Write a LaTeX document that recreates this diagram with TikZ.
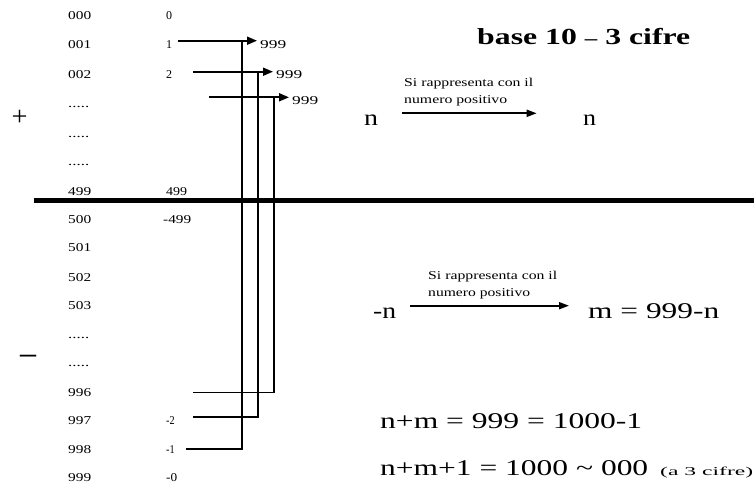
\documentclass[tikz,border=0pt]{standalone}
\usepackage{fontspec}
\usepackage{graphicx}
\setmainfont{Liberation Serif}
\usetikzlibrary{arrows.meta}
\newcommand\wbox[2]{\resizebox{#1pt}{\height}{#2}}
\newcommand\fivedots{.{}.{}.{}.{}.}
\begin{document}
\begin{tikzpicture}[x=1pt,y=-1pt,
  sm/.style={font=\fontsize{12}{14}\selectfont, inner sep=0pt, anchor=base west},
  big/.style={font=\fontsize{22.5}{26}\selectfont, inner sep=0pt, anchor=base west},
  conn/.style={line width=1.8pt},
  arr/.style={conn, -{Triangle[length=10pt,width=8pt]}},
  arrs/.style={conn, -{Triangle[length=10pt,width=7pt]}}]
\useasboundingbox (0,0) rectangle (754,490);
% left column
\foreach \t/\w/\y [count=\i] in {000/23/19.5, 001/23/48, 002/23/78.5, \fivedots/21/107, \fivedots/21/137, \fivedots/21/165.5, 499/23/195, 500/23/223, 501/23/251, 502/23/281, 503/23/309, \fivedots/21/338, \fivedots/21/366.5, 996/23/396, 997/23/424, 998/23/453, 999/23/481}
  \node[sm] (L\i) at (68,\y) {\wbox{\w}{\t}};
% second column
\node[sm] (v0) at (166,19.5) {0};
\node[sm] (v1) at (166,48) {1};
\node[sm] (v2) at (166,78.5) {2};
\node[sm] (v499) at (166,195) {\wbox{21}{499}};
\node[sm] (vm499) at (163,223) {\wbox{28}{-499}};
\node[sm] (vm2) at (166,424) {\wbox{8.5}{-2}};
\node[sm] (vm1) at (166,453) {\wbox{8.5}{-1}};
\node[sm] (vm0) at (166,481) {\wbox{11}{-0}};
% signs
\node[inner sep=0pt, anchor=base west, font=\fontsize{27}{30}\selectfont] (plus) at (11.5,125.5) {\wbox{16}{+}};
\node[inner sep=0pt, anchor=base west, font=\fontsize{36}{40}\selectfont] (minus) at (20,364.8) {\wbox{16}{–}};
% thick separator
\coordinate (sepL) at (34,200);
\coordinate (sepR) at (754,200);
\draw[line width=5pt] (sepL) -- (sepR);
% 999 labels
\node[sm] (n1) at (260,48.3) {\wbox{26}{999}};
\node[sm] (n2) at (276,78.3) {\wbox{26}{999}};
\node[sm] (n3) at (292,104) {\wbox{26}{999}};
% arrows and brackets
\coordinate (a1) at (178,40.7);
\coordinate (t1) at (257,40.7);
\coordinate (a2) at (193,71.7);
\coordinate (t2) at (273,71.7);
\coordinate (a3) at (209,97.3);
\coordinate (t3) at (289,97.3);
\coordinate (k1) at (242.3,40.7);
\coordinate (k2) at (258.3,71.7);
\coordinate (k3) at (274.3,97.3);
\coordinate (b1) at (185.7,448.7);
\coordinate (b2) at (193.3,416.7);
\coordinate (b3) at (193.3,392.5);
\draw[conn] (b1) -| (k1);
\draw[conn] (b2) -| (k2);
\draw[conn] (b3) -| (k3);
\draw[arr] (a1) -- (t1);
\draw[arr] (a2) -- (t2);
\draw[arr] (a3) -- (t3);
% title
\node[inner sep=0pt, anchor=base west, font=\fontsize{23}{27}\selectfont\bfseries] (title) at (477,44.3) {\wbox{213}{base 10 {\fontsize{18}{20}\selectfont –} 3 cifre}};
% positive mapping
\node[big] (np) at (364,125) {\wbox{14}{n}};
\node[big] (nq) at (583,125) {\wbox{13}{n}};
\node[sm] (s1a) at (404,86.7) {\wbox{129}{Si rappresenta con il}};
\node[sm] (s1b) at (404,103.3) {\wbox{103}{numero positivo}};
\coordinate (p1s) at (401.7,113.3);
\coordinate (p1e) at (536.7,113.3);
\draw[arrs] (p1s) -- (p1e);
% negative mapping
\node[big] (nm) at (373,318) {\wbox{23}{-n}};
\node[big] (mm) at (588,318) {\wbox{131}{m = 999-n}};
\node[sm] (s2a) at (428,279.3) {\wbox{129}{Si rappresenta con il}};
\node[sm] (s2b) at (428,296.7) {\wbox{102}{numero positivo}};
\coordinate (p2s) at (410,305.7);
\coordinate (p2e) at (569,305.7);
\draw[arrs] (p2s) -- (p2e);
% equations
\node[big] (eq1) at (380,428) {\wbox{262}{n+m = 999 = 1000-1}};
\node[big] (eq2) at (380,475) {\wbox{268}{n+m+1 = 1000 \textasciitilde\ 000}};
\node[sm] (eq2b) at (660,475) {\wbox{93}{(a 3 cifre)}};
\end{tikzpicture}
\end{document}
